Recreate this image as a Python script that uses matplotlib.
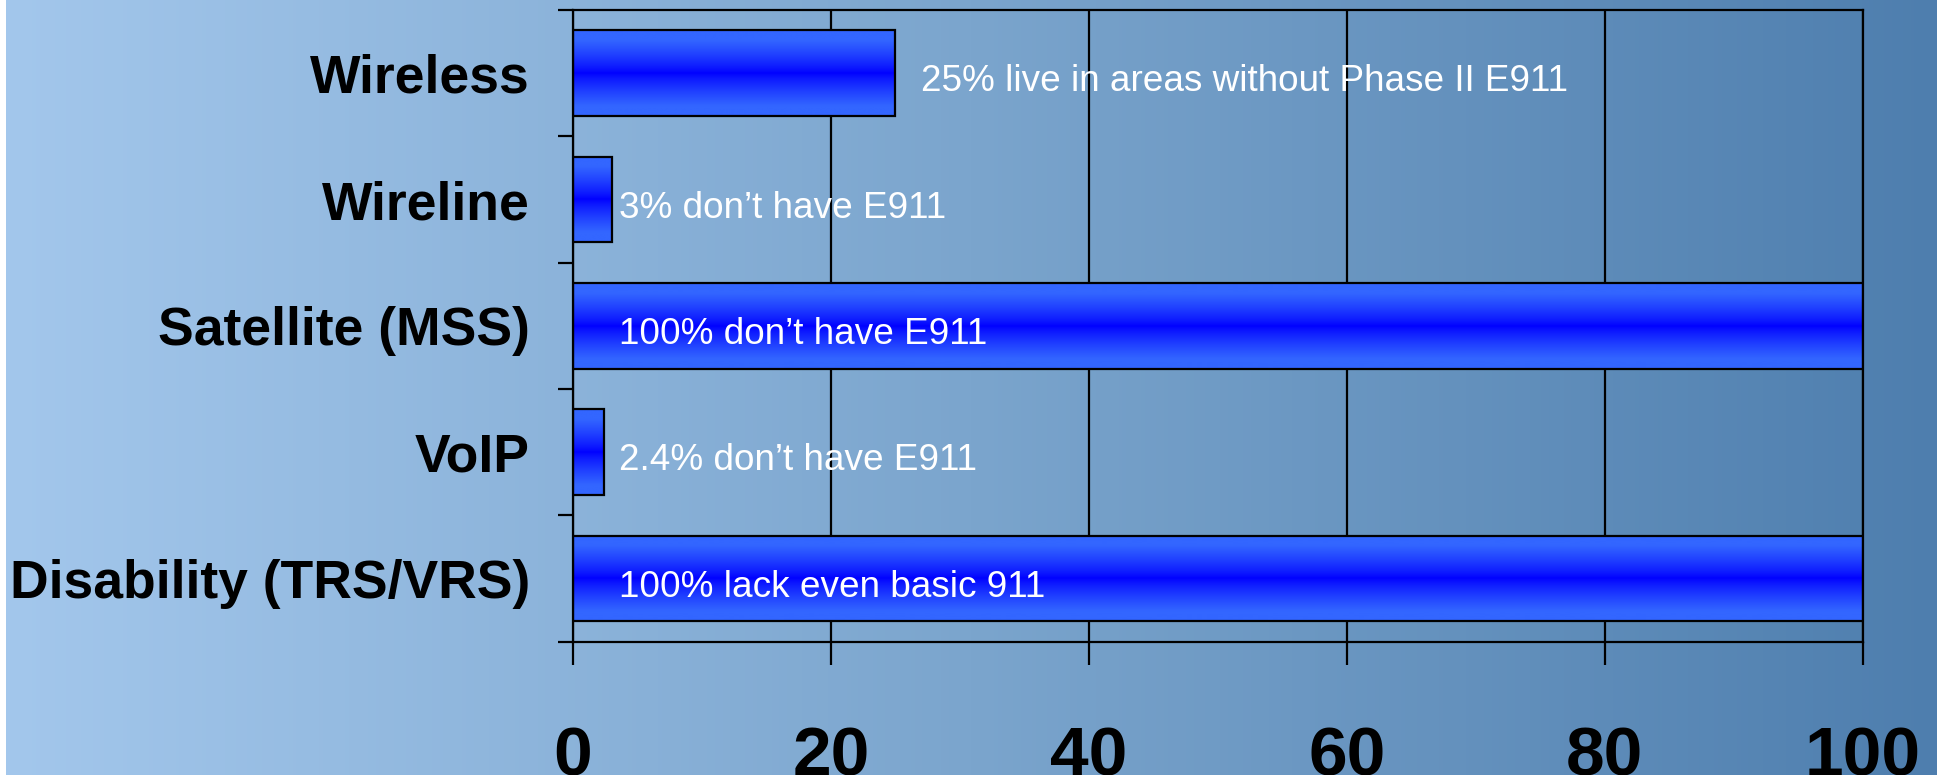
import numpy as np
import matplotlib
matplotlib.use("Agg")
import matplotlib.pyplot as plt
from matplotlib.colors import to_rgb
from matplotlib.transforms import offset_copy

plt.rcParams['font.family'] = ['Liberation Sans', 'DejaVu Sans']

# ---- data ----
categories = ["Wireless", "Wireline", "Satellite (MSS)", "VoIP", "Disability (TRS/VRS)"]
values = [25, 3, 100, 2.4, 100]
annotations = [
    "25% live in areas without Phase II E911",
    "3% don\u2019t have E911",
    "100% don\u2019t have E911",
    "2.4% don\u2019t have E911",
    "100% lack even basic 911",
]
xticks = [0, 20, 40, 60, 80, 100]

W, H, DPI = 1937, 775, 100
fig = plt.figure(figsize=(W / DPI, H / DPI), dpi=DPI)
fig.patch.set_facecolor("white")

# background gradient (left light blue -> right steel blue)
bg = fig.add_axes([6 / W, 0, 1 - 6 / W, 1], zorder=-10)
c_left = np.array(to_rgb("#a3c7ec"))
c_mid = np.array(to_rgb("#7ba5cd"))
c_right = np.array(to_rgb("#4e7eae"))
t = np.linspace(0, 1, 512)[:, None]
grad = np.where(t < 0.5, c_left + (c_mid - c_left) * (t / 0.5),
                c_mid + (c_right - c_mid) * ((t - 0.5) / 0.5))
bg.imshow(grad[None, :, :], aspect="auto", extent=[0, 1, 0, 1])
bg.set_axis_off()

ax = fig.add_axes([573 / W, 1 - 641.7 / H, (1862.7 - 573) / W, (641.7 - 10) / H])
ax.patch.set_alpha(0)

ypos = np.arange(len(categories))
bar_h = 0.68
bars = ax.barh(ypos, values, height=bar_h, facecolor="none",
               edgecolor="black", linewidth=1.6, zorder=4)

# vertical gradient inside bars: light blue edges, pure blue centre
top_c = np.array(to_rgb("#3366ff"))
mid_c = np.array(to_rgb("#0000ff"))
s = np.linspace(-1, 1, 256)[:, None]
f = np.clip(np.abs(s) * 1.3, 0, 1) ** 0.8
bar_grad = mid_c + (top_c - mid_c) * f
for p in bars.patches:
    x0, y0, w, h = p.get_x(), p.get_y(), p.get_width(), p.get_height()
    ax.imshow(bar_grad[:, None, :], aspect="auto",
              extent=[x0, x0 + w, y0 + h, y0], zorder=3)

txt_tr = offset_copy(ax.transData, fig=fig, x=0, y=-13, units="points")
for i, (v, txt) in enumerate(zip(values, annotations)):
    xt = v + 2 if 10 < v < 90 else 3.6
    ax.text(xt, i, txt, color="white", fontsize=26.6, va="baseline", ha="left",
            zorder=6, transform=txt_tr)

ax.set_xlim(0, 100)
ax.set_ylim(len(categories) - 0.5, -0.5)

ax.set_xticks(xticks)
ax.set_xticklabels([str(x) for x in xticks], fontsize=50, fontweight="bold")
ax.tick_params(axis="x", length=16.5, width=1.6, pad=44, color="black")

ax.set_yticks(np.arange(len(categories) + 1) - 0.5)
ax.set_yticklabels([])
ax.set_yticks(ypos, minor=True)
ax.set_yticklabels(categories, minor=True, fontsize=38.5, fontweight="bold")
ax.tick_params(axis="y", which="major", length=10.5, width=1.6, color="black")
ax.tick_params(axis="y", which="minor", length=0, pad=31)

ax.grid(axis="x", color="black", linewidth=1.6, zorder=1)
ax.set_axisbelow(True)
for sp in ax.spines.values():
    sp.set_linewidth(1.6)
    sp.set_color("black")
    sp.set_zorder(5)

fig.savefig("out.png", dpi=DPI)
